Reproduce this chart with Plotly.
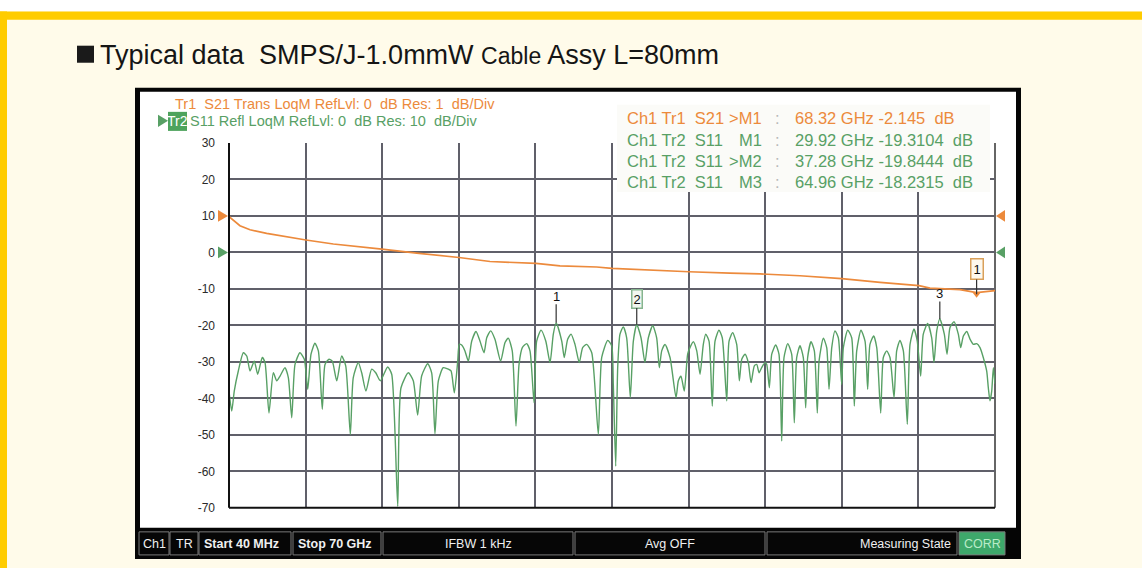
import plotly.graph_objects as go

# ---------------- data ----------------
# S11 (Tr2), frequency in GHz, value in dB (display scale 10 dB/div)
s11_freq = [0.04, 0.29, 0.52, 0.89, 1.35, 1.66, 1.96, 2.35, 2.66, 3.08, 3.33, 3.69, 4.09, 4.40, 4.70, 5.15, 5.46, 5.77,
            6.07, 6.52, 6.92, 7.23, 7.53, 7.89, 8.20, 8.56, 8.81, 9.17, 9.47, 9.88, 10.33, 10.70, 11.12, 11.39, 11.85,
            12.16, 12.55, 13.07, 13.44, 13.86, 14.53, 14.90, 15.45, 15.75, 16.42, 16.87, 17.27, 17.64, 18.19, 18.55,
            18.85, 19.16, 19.61, 20.07, 20.32, 20.62, 20.93, 21.07, 21.29, 21.59, 21.90, 22.21, 22.60, 22.96, 23.33,
            23.58, 23.94, 24.33, 24.85, 25.25, 25.55, 25.91, 26.25, 26.53, 26.83, 27.23, 27.53, 27.90, 28.14, 28.54,
            28.97, 29.36, 29.66, 29.92, 30.43, 30.66, 30.97, 31.28, 31.64, 32.03, 32.34, 32.71, 33.17, 33.77, 34.08,
            34.63, 34.99, 35.14, 35.36, 35.54, 35.75, 36.05, 36.36, 36.69, 36.97, 37.28, 37.67, 38.03, 38.34, 38.74,
            39.10, 39.34, 39.56, 39.86, 40.32, 40.87, 41.08, 41.32, 41.62, 41.93, 42.14, 42.45, 42.76, 43.06, 43.36,
            43.58, 43.88, 44.18, 44.43, 44.79, 45.09, 45.50, 45.71, 46.04, 46.41, 46.65, 46.87, 47.17, 47.47, 47.72,
            48.02, 48.24, 48.45, 48.69, 48.99, 49.15, 49.39, 49.61, 49.97, 50.27, 50.52, 50.73, 51.07, 51.43, 51.67,
            51.89, 52.19, 52.49, 52.71, 52.89, 53.20, 53.50, 53.77, 53.93, 54.32, 54.63, 54.84, 55.09, 55.39, 55.69,
            56.00, 56.15, 56.55, 56.91, 57.15, 57.37, 57.76, 58.13, 58.37, 58.58, 58.92, 59.20, 59.56, 59.80, 60.11,
            60.41, 60.78, 61.02, 61.32, 61.63, 61.99, 62.24, 62.60, 62.90, 63.21, 63.45, 63.85, 64.22, 64.43, 64.68,
            64.96, 65.37, 65.62, 65.89, 66.26, 66.65, 66.87, 67.11, 67.42, 67.72, 68.02, 68.33, 68.63, 68.93, 69.24,
            69.39, 69.54, 69.70, 69.85, 70.00]
s11_db = [-38, -43.5, -38, -32.5, -27.5, -28.4, -32.5, -29.8, -33.4, -28.8, -30.2, -44, -33, -35.2, -33.9, -31.6, -34.3, -45.3,
          -30.7, -27.5, -29.3, -37.5, -27.9, -24.9, -27, -43, -30.7, -29.3, -29.8, -35.2, -28.4, -31.1, -49.9, -34.3, -30.2,
          -33, -38, -32, -33, -35.2, -31.4, -33.4, -69.6, -37.1, -33, -35.2, -44.6, -33.8, -30.5, -33,
          -49.7, -35.2, -31.6, -32, -32.5, -38.5, -29.8, -25.2, -25.4, -27, -29.8, -24.3, -21.7, -24.3, -27.5,
          -23.4, -21.5, -23.8, -29.8, -24.7, -23.5, -27, -47.6, -30.7, -26.1, -25, -27, -41.2, -24.3, -21.3,
          -24.3, -30.2, -22.4, -19.31, -24.3, -28.8, -23.8, -22.4, -25.2, -30.2, -26.1, -25.2, -27.5, -49.9, -28.8,
          -24.1, -25.6, -36.2, -58.6, -31.6, -22.4, -20.4, -23.4, -39.8, -24.3, -19.84, -23.4, -30.2, -23.4, -20.1,
          -23.4, -31.6, -27, -25.2, -28.8, -39.8, -35.2, -33.9, -38, -27.9, -26.1, -24.5, -27, -33.4, -25.2,
          -22.4, -24.3, -42.1, -24.3, -21.3, -23.4, -40.7, -24.3, -22, -25.2, -35.2, -29.3, -27.9, -30.2, -35.7,
          -31.1, -30.7, -33, -31.6, -30.2, -30.7, -37.1, -27.9, -25.4, -27.9, -51.7, -28.8, -25, -27.9, -46.7,
          -28.8, -25.6, -28.8, -42.6, -28.8, -24.5, -27, -44, -29.8, -23.5, -26.1, -37.5, -26.1, -21.5, -23.4,
          -36.2, -26.1, -21.3, -23.4, -42.1, -27, -21.3, -24.3, -37.5, -25.2, -22.9, -26.1, -44, -28.8, -27,
          -28.8, -39.8, -27, -24.1, -27, -47.1, -25.2, -21, -24.3, -33.9, -22.4, -19.5, -23.4, -30.2, -21.5,
          -18.23, -22.4, -27.9, -20.6, -19, -22.4, -26.1, -22.9, -21.7, -23.8, -25.2, -25, -26.1, -28.8, -32.5,
          -37.1, -40.7, -38, -31.6, -36]

# S21 (Tr1), frequency in GHz, value in dB (display scale 1 dB/div)
s21_freq = [0.04, 0.13, 1.04, 1.96, 3.48, 5.00, 7.07, 9.57, 12.0, 14.0, 17.18, 21.05, 23.88, 28.08, 30.27,
            33.62, 35.02, 38.5, 42.05, 45.8, 48.54, 52.19, 56.0, 59.5, 63.06, 64.06, 64.97, 66.8, 68.32, 70.0]
s21_db = [0.00, -0.04, -0.27, -0.38, -0.48, -0.56, -0.66, -0.77, -0.84, -0.91, -1.02, -1.14, -1.25, -1.30, -1.37,
          -1.40, -1.44, -1.49, -1.53, -1.57, -1.59, -1.64, -1.72, -1.82, -1.91, -1.98, -2.00, -2.02, -2.10, -2.05]

# markers
s11_marker_names = ["M1", ">M2", "M3"]
s11_marker_labels = ["1", "2", "3"]
s11_marker_freq = [29.92, 37.28, 64.96]
s11_marker_db = [-19.3104, -19.8444, -18.2315]
s21_marker_name = ">M1"
s21_marker_freq = 68.32
s21_marker_db = -2.145

y_ticks = [30, 20, 10, 0, -10, -20, -30, -40, -50, -60, -70]

status_cells = ["Ch1", "TR", "Start 40 MHz", "Stop 70 GHz", "IFBW 1 kHz", "Avg OFF", "Measuring State", "CORR"]

# ---------------- styling helpers ----------------
W, H = 1142, 568
# the captured picture shows the page slightly shifted/compressed vertically; compensate
Y_OFF, Y_SCALE = 7.4, 0.973
def px(x):
    return x / W
def py(y):
    return 1 - ((y - Y_OFF) / Y_SCALE) / H

ORANGE = "#ec8a3c"
GREEN = "#58a065"
GRID = "#60606a"
FONT = "Liberation Sans, Arial, sans-serif"
NARROW = "Liberation Sans Narrow, Liberation Sans, Arial, sans-serif"

fig = go.Figure()

fig.add_trace(go.Scatter(x=s11_freq, y=s11_db, mode="lines",
                         line=dict(color=GREEN, width=1.4, shape="spline", smoothing=0.6),
                         showlegend=False, hoverinfo="skip"))
fig.add_trace(go.Scatter(x=s21_freq, y=s21_db, mode="lines", yaxis="y2",
                         line=dict(color=ORANGE, width=1.7), showlegend=False, hoverinfo="skip"))
fig.add_trace(go.Scatter(x=[s21_marker_freq], y=[s21_marker_db], mode="markers", yaxis="y2",
                         marker=dict(symbol="triangle-down", size=7, color=ORANGE),
                         showlegend=False, hoverinfo="skip"))
all_marker_freq = s11_marker_freq + [s21_marker_freq]
fig.add_trace(go.Scatter(x=all_marker_freq, y=[-71.55] * len(all_marker_freq), mode="markers",
                         marker=dict(symbol="triangle-up", size=9, color="black"),
                         cliponaxis=False, showlegend=False, hoverinfo="skip"))

shapes = []
def rect(x0, y0, x1, y1, fill, line_color=None, lw=0, layer="below"):
    shapes.append(dict(type="rect", xref="paper", yref="paper", x0=px(x0), x1=px(x1), y0=py(y1), y1=py(y0),
                       fillcolor=fill, line=dict(color=line_color or fill, width=lw), layer=layer))

# page decoration
rect(0, 0, W, 12, "white")
rect(0, 12, W, 20, "#ffcc00")
rect(0, 12, 7, 580, "#ffcc00")
rect(77, 46, 94, 63, "#1a1a1a")
# instrument screen
rect(135, 88, 1021, 558, "#050505")
rect(140, 92, 1016, 527, "white")

# plot frame lines
shapes.append(dict(type="line", xref="paper", yref="paper", x0=px(229), x1=px(229), y0=py(507), y1=py(143),
                   line=dict(color="#111", width=2), layer="above"))
shapes.append(dict(type="line", xref="paper", yref="paper", x0=px(229), x1=px(995), y0=py(507), y1=py(507),
                   line=dict(color="#111", width=2), layer="above"))
shapes.append(dict(type="line", xref="paper", yref="paper", x0=px(995), x1=px(995), y0=py(507), y1=py(143),
                   line=dict(color="#333", width=1.5), layer="below"))

# readout background
rect(617, 105, 990, 192, "#fbfbf8", layer="above")

# reference-level triangles (Tr1 ref 0 dB on y2, Tr2 ref 0 dB on y)
def tri(xa, xb, yref, yc, hh, color):
    shapes.append(dict(type="path", xref="paper", yref=yref,
                       path=f"M {px(xa)},{yc + hh} L {px(xa)},{yc - hh} L {px(xb)},{yc} Z",
                       fillcolor=color, line=dict(color=color, width=0), layer="above"))
tri(218, 228, "y2", s21_db[0], 0.16, ORANGE)
tri(1005, 996, "y2", s21_db[0], 0.16, ORANGE)
tri(218, 228, "y", 0, 1.6, GREEN)
tri(1005, 996, "y", 0, 1.6, GREEN)

# legend block top-left
shapes.append(dict(type="path", xref="paper", yref="paper",
                   path=f"M {px(158)},{py(115)} L {px(158)},{py(127)} L {px(168)},{py(121)} Z",
                   fillcolor=GREEN, line=dict(color=GREEN, width=0)))
rect(168, 112, 187, 131, "#4ea35d")

annotations = []
def text(x, y, s, size=13, color="#222", anchor="left", family=FONT, **kw):
    annotations.append(dict(xref="paper", yref="paper", x=px(x), y=py(y), text=s, showarrow=False,
                            xanchor=anchor, yanchor="middle", font=dict(size=size, color=color, family=family), **kw))

NB = "\u00a0"
text(98, 55, f"Typical data{NB}{NB}SMPS/J-1.0mmW <span style='font-size:23px'>Cable</span> Assy L=80mm",
     size=27, color="#151515")

text(173, 104, f"Tr1{NB}{NB}S21 Trans LoqM RefLvl: 0{NB}{NB}dB Res: 1{NB}{NB}dB/Div", size=14.5, color=ORANGE)
text(177.5, 121, "Tr2", size=14, color="white", anchor="center")
text(188, 121, f"S11 Refl LoqM RefLvl: 0{NB}{NB}dB Res: 10{NB}{NB}dB/Div", size=14.5, color=GREEN)

# marker readout
rows = [("Ch1 Tr1" + NB * 2 + "S21", s21_marker_name, f"{s21_marker_freq:.2f} GHz -{abs(s21_marker_db):.3f}{NB}{NB}dB", ORANGE)]
for name, f, v in zip(s11_marker_names, s11_marker_freq, s11_marker_db):
    rows.append(("Ch1 Tr2" + NB * 2 + "S11", name, f"{f:.2f} GHz -{abs(v):.4f}{NB}{NB}dB", GREEN))
row_y = [118, 140, 161, 182]
for (lab, mk, val, col), yy in zip(rows, row_y):
    text(625, yy, lab, size=16.5, color=col)
    text(764, yy, mk, size=16.5, color=col, anchor="right")
    text(777, yy, ":", size=16.5, color="#b8b8b8", anchor="center")
    text(793, yy, val, size=16.5, color=col)

# marker flags on traces
for lab, f, v in zip(s11_marker_labels, s11_marker_freq, s11_marker_db):
    boxed = lab == "2"
    annotations.append(dict(x=f, y=v, xref="x", yref="y", text=lab, showarrow=True, arrowhead=0,
                            arrowwidth=1.2, arrowcolor="#333", ax=0, ay=-26 if lab != "3" else -25,
                            font=dict(size=13, color="#111", family=FONT),
                            bordercolor="#86b58f" if boxed else "rgba(0,0,0,0)", borderwidth=1.5 if boxed else 0,
                            borderpad=1 if boxed else 0, bgcolor="#f2f7f0" if boxed else "rgba(0,0,0,0)"))
annotations.append(dict(x=s21_marker_freq, y=s21_marker_db, xref="x", yref="y2", text="1", showarrow=True,
                        arrowhead=0, arrowwidth=1.2, arrowcolor="#333", ax=0, ay=-25,
                        font=dict(size=13, color="#111", family=FONT),
                        bordercolor="#d9a05a", borderwidth=1.5, borderpad=2, bgcolor="#fdf8ee"))

# status bar
cells = [(139, 169, "center", False), (170, 198, "center", False), (199, 291, "left", True),
         (293, 381, "left", True), (383, 573, "center", False), (575, 765, "center", False),
         (767, 957, "right", False), (959, 1005, "center", False)]
for (x0, x1, al, bold), label in zip(cells, status_cells):
    is_corr = label == "CORR"
    rect(x0, 531, x1, 554, "#3ea86b" if is_corr else "#060606", line_color="#7a7a7a", lw=1)
    s = f"<b>{label}</b>" if bold else label
    col = "#b9ecc8" if is_corr else "#f0f0f0"
    if al == "left":
        text(x0 + 3, 543, s, size=12.5, color=col, family=NARROW)
    elif al == "right":
        text(x1 - 4, 543, s, size=12.5, color=col, family=NARROW, anchor="right")
    else:
        text((x0 + x1) / 2, 543, s, size=12.5, color=col, family=NARROW, anchor="center")

fig.update_layout(
    width=W, height=H, margin=dict(l=0, r=0, t=0, b=0),
    paper_bgcolor="#fffbea", plot_bgcolor="white",
    font=dict(family=FONT),
    xaxis=dict(domain=[px(229), px(995)], range=[0.04, 70], tick0=0.04, dtick=(70 - 0.04) / 10,
               showgrid=True, gridcolor=GRID, gridwidth=1.5, showticklabels=False, zeroline=False,
               ticks="", showline=False),
    yaxis=dict(domain=[py(507), py(143)], range=[-70, 30], tickvals=y_ticks,
               ticktext=[str(t) for t in y_ticks],
               showgrid=True, gridcolor=GRID, gridwidth=1.5, zeroline=False, showline=False,
               tickfont=dict(size=12, color="#2a2a2a", family=FONT), ticklabelstandoff=13),
    yaxis2=dict(overlaying="y", anchor="x", range=[-8, 2], visible=False),
    shapes=shapes, annotations=annotations, showlegend=False,
)

page_js = (
    "var h=document.documentElement.style;h.margin='0';h.padding='0';h.overflow='hidden';"
    "h.background='linear-gradient(#ffffff 0%, #ffffff 50%, #fffbea 50%, #fffbea 100%)';"
    "var b=document.body.style;b.margin='0';b.padding='0';b.overflow='hidden';b.background='transparent';"
    "var d=document.getElementById('{plot_id}');d.style.position='fixed';d.style.left='0px';d.style.top='0px';"
)
fig.write_html("out.html", config={"displayModeBar": False, "responsive": False}, post_script=page_js)
